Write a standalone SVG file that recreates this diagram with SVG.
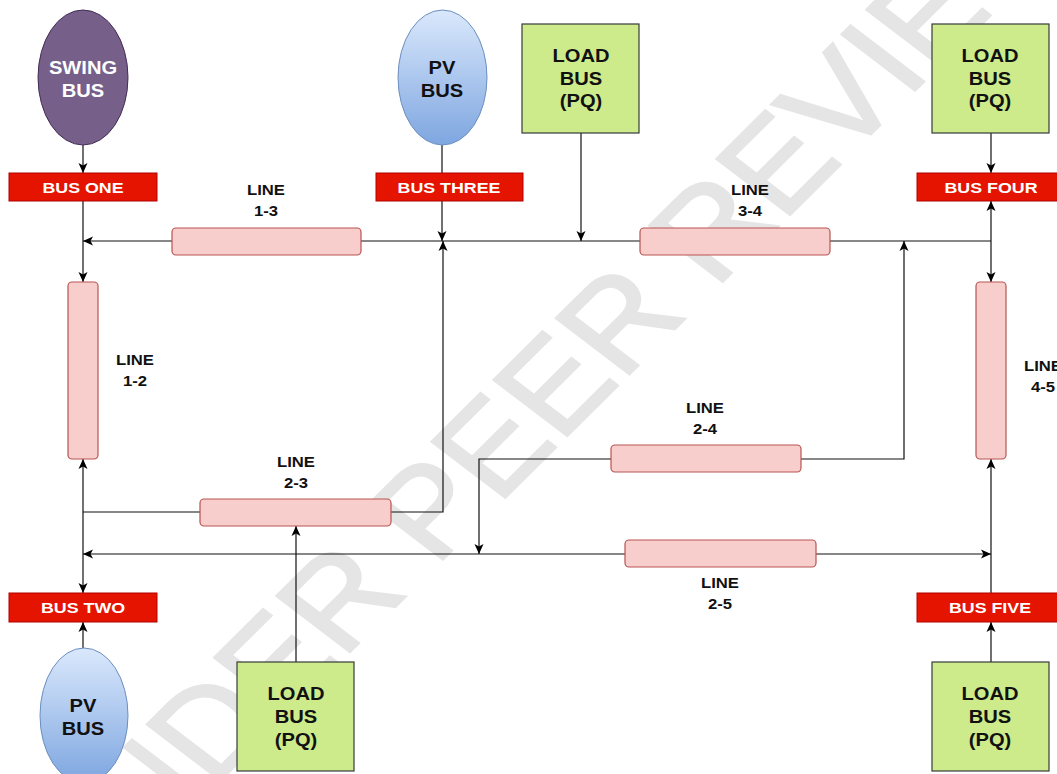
<svg xmlns="http://www.w3.org/2000/svg" width="1057" height="774" viewBox="0 0 1057 774">
<defs>
<linearGradient id="pvg" x1="0" y1="0" x2="0" y2="1">
<stop offset="0" stop-color="#dae8fc"/>
<stop offset="1" stop-color="#7ea6e0"/>
</linearGradient>
<marker id="arr" viewBox="0 0 10 10" refX="10" refY="5" markerWidth="10" markerHeight="10" markerUnits="userSpaceOnUse" orient="auto">
<path d="M0,0.5 L10,5 L0,9.5 L2.5,5 Z" fill="#000"/>
</marker>
<style>
.wm{font-family:"Liberation Sans",Arial,sans-serif;font-size:123px;fill:#e5e5e5;stroke:#e5e5e5;stroke-width:2.5;}
.bus{fill:#e51400;stroke:#b20000;stroke-width:1;}
.bt{font-family:"Liberation Sans",Arial,sans-serif;font-weight:bold;font-size:15.5px;fill:#fff;text-anchor:middle;}
.ln{fill:#f8cecc;stroke:#b85450;stroke-width:1.2;}
.lt{font-family:"Liberation Sans",Arial,sans-serif;font-weight:bold;font-size:14.5px;fill:#111;text-anchor:middle;}
.load{fill:#cdeb8b;stroke:#36393d;stroke-width:1.2;}
.nt{font-family:"Liberation Sans",Arial,sans-serif;font-weight:bold;font-size:17.5px;fill:#111;text-anchor:middle;}
.nw{font-family:"Liberation Sans",Arial,sans-serif;font-weight:bold;font-size:17.5px;fill:#fff;text-anchor:middle;}
.c{fill:none;stroke:#111;stroke-width:1.2;}
.ca{fill:none;stroke:#111;stroke-width:1.2;marker-end:url(#arr);}
</style>
</defs>
<rect x="0" y="0" width="1057" height="774" fill="#fff"/>
<text class="wm" x="0" y="0" transform="scale(1.15,1) translate(68,921.5) rotate(-48.8)">UNDER PEER REVIEW</text>

<g id="connectors">
<path class="ca" d="M83,145 V173"/>
<path class="ca" d="M172,241 H83"/>
<path class="ca" d="M83,201 V282"/>
<path class="c" d="M442,145 V173"/>
<path class="ca" d="M442,201 V241"/>
<path class="c" d="M361,241 H640"/>
<path class="ca" d="M581,133 V241"/>
<path class="c" d="M830,241 H991"/>
<path class="ca" d="M991,241 V201"/>
<path class="ca" d="M991,241 V282"/>
<path class="ca" d="M991,133 V173"/>
<path class="ca" d="M801,459 H904 V241"/>
<path class="ca" d="M611,459 H479 V554"/>
<path class="ca" d="M391,512 H443 V241"/>
<path class="c" d="M200,512 H83"/>
<path class="ca" d="M296,662 V526"/>
<path class="ca" d="M83,554 V459"/>
<path class="ca" d="M83,554 V593"/>
<path class="ca" d="M625,554 H83"/>
<path class="ca" d="M816,554 H991"/>
<path class="ca" d="M991,593 V459"/>
<path class="ca" d="M991,662 V622"/>
<path class="ca" d="M83,648 V622"/>
</g>

<g id="swing-bus">
<ellipse cx="83" cy="77.5" rx="45" ry="67.5" fill="#76608a" stroke="#432d57" stroke-width="1"/>
<g transform="translate(83,0) scale(1.15,1)"><text class="nw" x="0" y="74">SWING</text><text class="nw" x="0" y="97">BUS</text></g>
</g>

<g id="pv-bus-3">
<ellipse cx="442.5" cy="77.5" rx="44.5" ry="67.5" fill="url(#pvg)" stroke="#6c8ebf" stroke-width="1"/>
<g transform="translate(442,0) scale(1.15,1)"><text class="nt" x="0" y="74">PV</text><text class="nt" x="0" y="97">BUS</text></g>
</g>

<g id="pv-bus-2">
<ellipse cx="84" cy="715.5" rx="44" ry="67.5" fill="url(#pvg)" stroke="#6c8ebf" stroke-width="1"/>
<g transform="translate(83,0) scale(1.15,1)"><text class="nt" x="0" y="712">PV</text><text class="nt" x="0" y="735">BUS</text></g>
</g>

<g id="load-3">
<rect class="load" x="522" y="24" width="117" height="109"/>
<g transform="translate(581,0) scale(1.15,1)"><text class="nt" x="0" y="62">LOAD</text><text class="nt" x="0" y="85">BUS</text><text class="nt" x="0" y="107">(PQ)</text></g>
</g>

<g id="load-4">
<rect class="load" x="932" y="24" width="117" height="109"/>
<g transform="translate(990,0) scale(1.15,1)"><text class="nt" x="0" y="62">LOAD</text><text class="nt" x="0" y="85">BUS</text><text class="nt" x="0" y="107">(PQ)</text></g>
</g>

<g id="load-2">
<rect class="load" x="237" y="662" width="117" height="109"/>
<g transform="translate(296,0) scale(1.15,1)"><text class="nt" x="0" y="700">LOAD</text><text class="nt" x="0" y="723">BUS</text><text class="nt" x="0" y="746">(PQ)</text></g>
</g>

<g id="load-5">
<rect class="load" x="932" y="662" width="117" height="109"/>
<g transform="translate(990,0) scale(1.15,1)"><text class="nt" x="0" y="700">LOAD</text><text class="nt" x="0" y="723">BUS</text><text class="nt" x="0" y="746">(PQ)</text></g>
</g>

<g id="bus-one">
<rect class="bus" x="9" y="173" width="148" height="28"/>
<g transform="translate(83,0) scale(1.15,1)"><text class="bt" x="0" y="193">BUS ONE</text></g>
</g>

<g id="bus-three">
<rect class="bus" x="376" y="173" width="147" height="28"/>
<g transform="translate(449,0) scale(1.15,1)"><text class="bt" x="0" y="193">BUS THREE</text></g>
</g>

<g id="bus-four">
<rect class="bus" x="917" y="173" width="148" height="28"/>
<g transform="translate(991,0) scale(1.15,1)"><text class="bt" x="0" y="193">BUS FOUR</text></g>
</g>

<g id="bus-two">
<rect class="bus" x="9" y="593" width="148" height="29"/>
<g transform="translate(83,0) scale(1.15,1)"><text class="bt" x="0" y="613">BUS TWO</text></g>
</g>

<g id="bus-five">
<rect class="bus" x="917" y="593" width="148" height="29"/>
<g transform="translate(990,0) scale(1.15,1)"><text class="bt" x="0" y="613">BUS FIVE</text></g>
</g>

<g id="line-1-3">
<rect class="ln" x="172" y="228" width="189" height="27" rx="4"/>
<g transform="translate(266,0) scale(1.15,1)"><text class="lt" x="0" y="195">LINE</text><text class="lt" x="0" y="216">1-3</text></g>
</g>

<g id="line-3-4">
<rect class="ln" x="640" y="228" width="190" height="27" rx="4"/>
<g transform="translate(750,0) scale(1.15,1)"><text class="lt" x="0" y="195">LINE</text><text class="lt" x="0" y="216">3-4</text></g>
</g>

<g id="line-1-2">
<rect class="ln" x="68" y="282" width="30" height="177" rx="4"/>
<g transform="translate(135,0) scale(1.15,1)"><text class="lt" x="0" y="365">LINE</text><text class="lt" x="0" y="386">1-2</text></g>
</g>

<g id="line-4-5">
<rect class="ln" x="976" y="282" width="30" height="177" rx="4"/>
<g transform="translate(1043,0) scale(1.15,1)"><text class="lt" x="0" y="371">LINE</text><text class="lt" x="0" y="392">4-5</text></g>
</g>

<g id="line-2-3">
<rect class="ln" x="200" y="499" width="191" height="27" rx="4"/>
<g transform="translate(296,0) scale(1.15,1)"><text class="lt" x="0" y="467">LINE</text><text class="lt" x="0" y="488">2-3</text></g>
</g>

<g id="line-2-4">
<rect class="ln" x="611" y="445" width="190" height="27" rx="4"/>
<g transform="translate(705,0) scale(1.15,1)"><text class="lt" x="0" y="413">LINE</text><text class="lt" x="0" y="434">2-4</text></g>
</g>

<g id="line-2-5">
<rect class="ln" x="625" y="540" width="191" height="27" rx="4"/>
<g transform="translate(720,0) scale(1.15,1)"><text class="lt" x="0" y="588">LINE</text><text class="lt" x="0" y="609">2-5</text></g>
</g>
</svg>
